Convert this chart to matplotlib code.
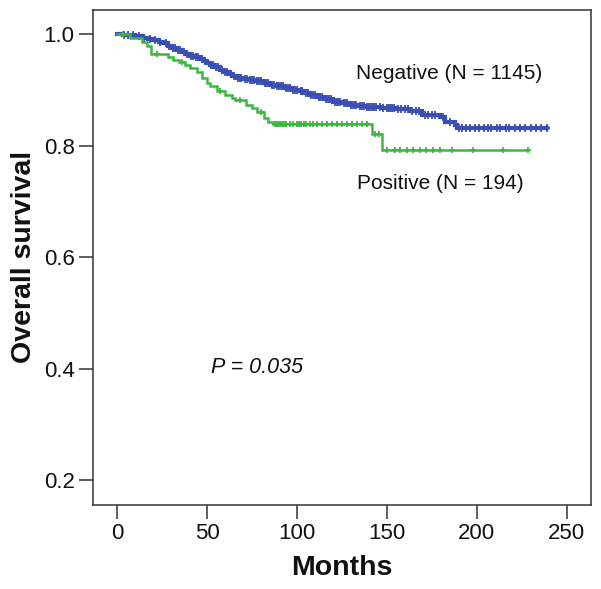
import numpy as np
import matplotlib
matplotlib.use("Agg")
import matplotlib.pyplot as plt

plt.rcParams['font.family'] = ['Liberation Sans', 'DejaVu Sans']

# ---- data ----
neg_times = [0, 3, 7, 10, 14.5, 17, 20, 23, 25.6, 28, 30.5, 33, 36, 38, 40.4, 43, 46, 48, 50,
             51.6, 54, 57, 59, 62, 64, 66.4, 70, 73.8, 77, 81.2, 85, 88.7, 93, 97.9, 101.6,
             104, 107.2, 111, 115, 120, 125, 129.4, 134, 138.7, 147, 155, 163, 169.3, 179.5,
             182.3, 187.9, 188.8]
neg_surv = [1.0, 0.999, 0.998, 0.996, 0.993, 0.991, 0.989, 0.986, 0.983, 0.979, 0.975, 0.971,
            0.967, 0.964, 0.961, 0.958, 0.956, 0.952, 0.948, 0.944, 0.940, 0.936, 0.932, 0.928,
            0.924, 0.921, 0.919, 0.917, 0.915, 0.912, 0.909, 0.906, 0.903, 0.900, 0.897, 0.894,
            0.891, 0.888, 0.884, 0.879, 0.876, 0.873, 0.871, 0.869, 0.867, 0.865, 0.862, 0.855,
            0.852, 0.843, 0.837, 0.831]
neg_end = 238.9
neg_censor = [4, 6, 9, 12, 15, 18, 21, 24, 27, 29, 31, 32, 34, 35, 37, 39, 41, 42, 44, 45, 47,
              49, 52, 53, 55, 56, 58, 60, 61, 63, 65, 67, 68, 69, 71, 72, 74, 75, 76, 78, 79, 80,
              82, 83, 84, 86, 87, 89, 90, 91, 92, 94, 95, 96, 98, 99, 100, 102, 103, 105, 106,
              108, 109, 110, 112, 113, 114, 116, 117, 118, 119, 121, 122, 123, 124, 126, 127,
              128, 130, 131, 132, 133, 135, 136, 137, 139, 140, 141, 142, 143, 144, 146, 148,
              150, 151, 152, 153, 154, 156, 158, 160, 162, 164, 166, 168, 171, 173, 175, 177,
              181, 185, 190, 192, 194, 196, 199, 201, 204, 206, 208, 211, 213, 216, 218, 221,
              224, 227, 230, 233, 236, 238.9]

pos_times = [0, 7, 13.6, 16.7, 19, 28.4, 31, 34.3, 37.7, 40.4, 44.5, 47, 49.7, 51.6, 55.3, 60,
             63.6, 65.5, 71.6, 74.8, 77.5, 81.6, 84, 86.8, 141.5, 147]
pos_surv = [1.0, 0.993, 0.986, 0.979, 0.964, 0.958, 0.954, 0.949, 0.944, 0.939, 0.932, 0.921,
            0.912, 0.906, 0.897, 0.891, 0.885, 0.882, 0.873, 0.867, 0.860, 0.849, 0.843, 0.839,
            0.820, 0.792]
pos_end = 228.6
pos_censor = [3, 22, 36, 57, 68, 80, 88, 89, 90, 91, 92, 93, 94, 96, 98, 100, 101, 102, 103.6,
              105, 107.2, 109, 111, 113.7, 116.5, 119.3, 122, 124.8, 127.6, 130.4, 133.2, 136,
              138.7, 143.6, 145.5, 150, 154.6, 157.4, 161, 164.6, 168.4, 172, 175.8, 179.5,
              186, 198, 214.7, 228.6]

x_ticks = [0, 50, 100, 150, 200, 250]
y_ticks = [0.2, 0.4, 0.6, 0.8, 1.0]

labels = ["Negative (N = 1145)", "Positive (N = 194)"]
p_text = "P = 0.035"

BLUE = '#3B4FB2'
GREEN = '#3CB83E'

fig = plt.figure(figsize=(6.01, 5.89), dpi=100)
ax = fig.add_axes([0.1542, 0.1431, 0.9829 - 0.1542, 0.9835 - 0.1431])


def km(ax, times, surv, end, censor, color, lw, ms):
    t = np.append(np.asarray(times, float), end)
    s = np.append(np.asarray(surv, float), surv[-1])
    ax.step(t, s, where='post', color=color, lw=lw, solid_joinstyle='miter', zorder=3)
    c = np.asarray(censor, float)
    idx = np.searchsorted(np.asarray(times, float), c, side='right') - 1
    cs = np.asarray(surv, float)[idx]
    ax.plot(c, cs, ls='none', marker='|', ms=ms, mew=1.3, color=color, zorder=3)
    ax.plot(c, cs, ls='none', marker='_', ms=ms - 1, mew=1.3, color=color, zorder=3)


km(ax, neg_times, neg_surv, neg_end, neg_censor, BLUE, 3.0, 5.5)
km(ax, pos_times, pos_surv, pos_end, pos_censor, GREEN, 1.8, 5)

ax.set_xlim(-13.7, 263.4)
ax.set_ylim(0.1566, 1.0435)
ax.set_xticks(x_ticks)
ax.set_yticks(y_ticks)
ax.set_yticklabels([f"{v:.1f}" for v in y_ticks])

for sp in ax.spines.values():
    sp.set_linewidth(1.1)
    sp.set_color('#333333')
ax.tick_params(direction='out', length=10, width=1.1, color='#333333',
               labelsize=16, pad=3, labelcolor='#111111')

ax.set_xlabel("Months", fontsize=20.5, fontweight='bold', labelpad=8, color='#111111')
ax.set_ylabel("Overall survival", fontsize=20.5, fontweight='bold', labelpad=5, color='#111111')

ax.text(132.8, 0.930, labels[0], fontsize=15, va='center', ha='left', color='#111111')
ax.text(133.3, 0.733, labels[1], fontsize=15, va='center', ha='left', color='#111111')
ax.text(52, 0.403, p_text, fontsize=15.5, style='italic', va='center', ha='left', color='#111111')

fig.savefig("out.png", dpi=100)
